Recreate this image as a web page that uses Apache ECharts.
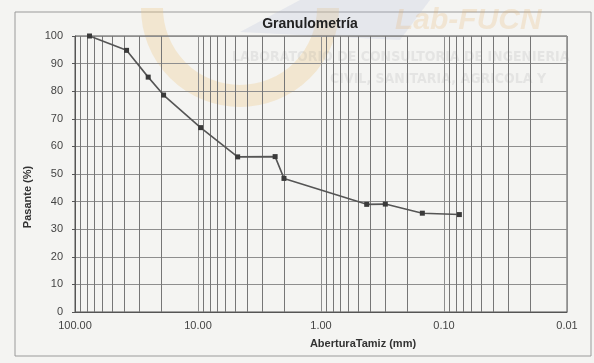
<!DOCTYPE html>
<html>
<head>
<meta charset="utf-8">
<script src="https://cdn.jsdelivr.net/npm/echarts@6/dist/echarts.min.js"></script>
<style>
html, body { margin: 0; padding: 0; background: #f4f4f2; }
#chart { width: 594px; height: 363px; }
</style>
</head>
<body>
<div id="chart"></div>
<script>
// sieve openings (mm) and passing percentage
const aperture = [76.2, 38.1, 25.4, 19.05, 9.525, 4.76, 2.36, 2.0, 0.425, 0.3, 0.15, 0.075]
const passing = [100, 94.8, 85.1, 78.6, 66.8, 56.2, 56.3, 48.4, 39.0, 39.1, 35.8, 35.3]
const xTicks = [100, 10, 1, 0.1, 0.01]
const yTicks = [0, 10, 20, 30, 40, 50, 60, 70, 80, 90, 100]

const textColor = '#333333'
const gridColor = '#8e8e8e'
const minorColor = '#767676'
const lineColor = '#555555'

// minor log grid lines (2..9 in each decade)
const minorLines = []
xTicks.slice(1).forEach(decade => {
  for (let m = 2; m <= 9; m++) {
    minorLines.push({ xAxis: +(decade * m).toPrecision(6) })
  }
})

const chart = echarts.init(document.getElementById('chart'))

const option = {
  backgroundColor: '#f4f4f2',
  animation: false,
  title: {
    text: 'Granulometría',
    left: 305,
    top: 12,
    textAlign: 'center',
    textStyle: {
      fontFamily: 'Liberation Sans, Arial, sans-serif',
      fontSize: 14,
      fontWeight: 'bold',
      color: '#222222'
    }
  },
  graphic: [
    {
      type: 'rect',
      z: -20,
      shape: { x: 15, y: 12, width: 576, height: 344 },
      style: { fill: 'none', stroke: '#9a9a9a', lineWidth: 1 }
    },
    {
      type: 'arc',
      z: -10,
      shape: { cx: 240, cy: 8, r: 88, startAngle: 0, endAngle: Math.PI },
      style: { fill: 'none', stroke: 'rgba(240, 200, 130, 0.3)', lineWidth: 22 }
    },
    {
      type: 'polygon',
      z: -10,
      shape: { points: [[240, 32], [300, 0], [430, 0], [400, 40]] },
      style: { fill: 'rgba(170, 180, 215, 0.2)' }
    },
    {
      type: 'text',
      z: -5,
      left: 232,
      top: 50,
      style: {
        text: 'LABORATORIO DE CONSULTORIA DE INGENIERIA',
        font: 'bold 14px "DejaVu Sans Condensed", sans-serif',
        fill: 'rgba(150, 150, 150, 0.16)'
      }
    },
    {
      type: 'text',
      z: -5,
      left: 330,
      top: 72,
      style: {
        text: 'CIVIL, SANITARIA, AGRICOLA Y',
        font: 'bold 14px "DejaVu Sans Condensed", sans-serif',
        fill: 'rgba(150, 150, 150, 0.16)'
      }
    },
    {
      type: 'text',
      z: -5,
      left: 395,
      top: 6,
      style: {
        text: 'Lab-FUCN',
        font: 'italic bold 30px "Liberation Sans", sans-serif',
        fill: 'rgba(230, 170, 90, 0.2)'
      }
    }
  ],
  grid: {
    left: 75,
    right: 27,
    top: 36,
    bottom: 51,
    show: true,
    backgroundColor: 'transparent',
    borderColor: '#555555',
    borderWidth: 1
  },
  xAxis: {
    type: 'log',
    logBase: 10,
    min: 0.01,
    max: 100,
    inverse: true,
    name: 'AberturaTamiz (mm)',
    nameLocation: 'middle',
    nameGap: 26,
    nameTextStyle: {
      fontFamily: 'Liberation Sans, Arial, sans-serif',
      fontSize: 11,
      fontWeight: 'bold',
      color: textColor,
      padding: [0, 0, 0, 84]
    },
    axisLine: { show: true, lineStyle: { color: '#555555' } },
    axisTick: { show: false },
    axisLabel: {
      color: '#444444',
      fontSize: 11,
      fontFamily: 'Liberation Sans, Arial, sans-serif',
      margin: 8,
      formatter(value) {
        return Number(value).toFixed(2)
      }
    },
    splitLine: { show: true, lineStyle: { color: gridColor, width: 1 } }
  },
  yAxis: {
    type: 'value',
    min: yTicks[0],
    max: yTicks[yTicks.length - 1],
    interval: 10,
    name: 'Pasante (%)',
    nameLocation: 'middle',
    nameGap: 29,
    nameTextStyle: {
      fontFamily: 'Liberation Sans, Arial, sans-serif',
      fontSize: 11,
      fontWeight: 'bold',
      color: textColor,
      padding: [0, 46, 0, 0]
    },
    axisLine: { show: true, lineStyle: { color: '#555555' } },
    axisTick: { show: true, length: 3, lineStyle: { color: '#555555' } },
    axisLabel: {
      color: '#444444',
      fontSize: 11,
      fontFamily: 'Liberation Sans, Arial, sans-serif',
      margin: 12
    },
    splitLine: { show: true, lineStyle: { color: gridColor, width: 1 } }
  },
  series: [
    {
      name: 'grid',
      type: 'line',
      data: [],
      silent: true,
      markLine: {
        silent: true,
        symbol: 'none',
        label: { show: false },
        emphasis: { disabled: true },
        lineStyle: { color: minorColor, width: 1, type: 'solid', opacity: 1 },
        data: minorLines
      }
    },
    {
      name: 'Pasante',
      type: 'line',
      data: aperture.map((a, i) => [a, passing[i]]),
      symbol: 'rect',
      symbolSize: 5,
      lineStyle: { color: lineColor, width: 1.6 },
      itemStyle: { color: '#3a3a3a' },
      z: 5
    }
  ]
}

chart.setOption(option)
</script>
</body>
</html>
